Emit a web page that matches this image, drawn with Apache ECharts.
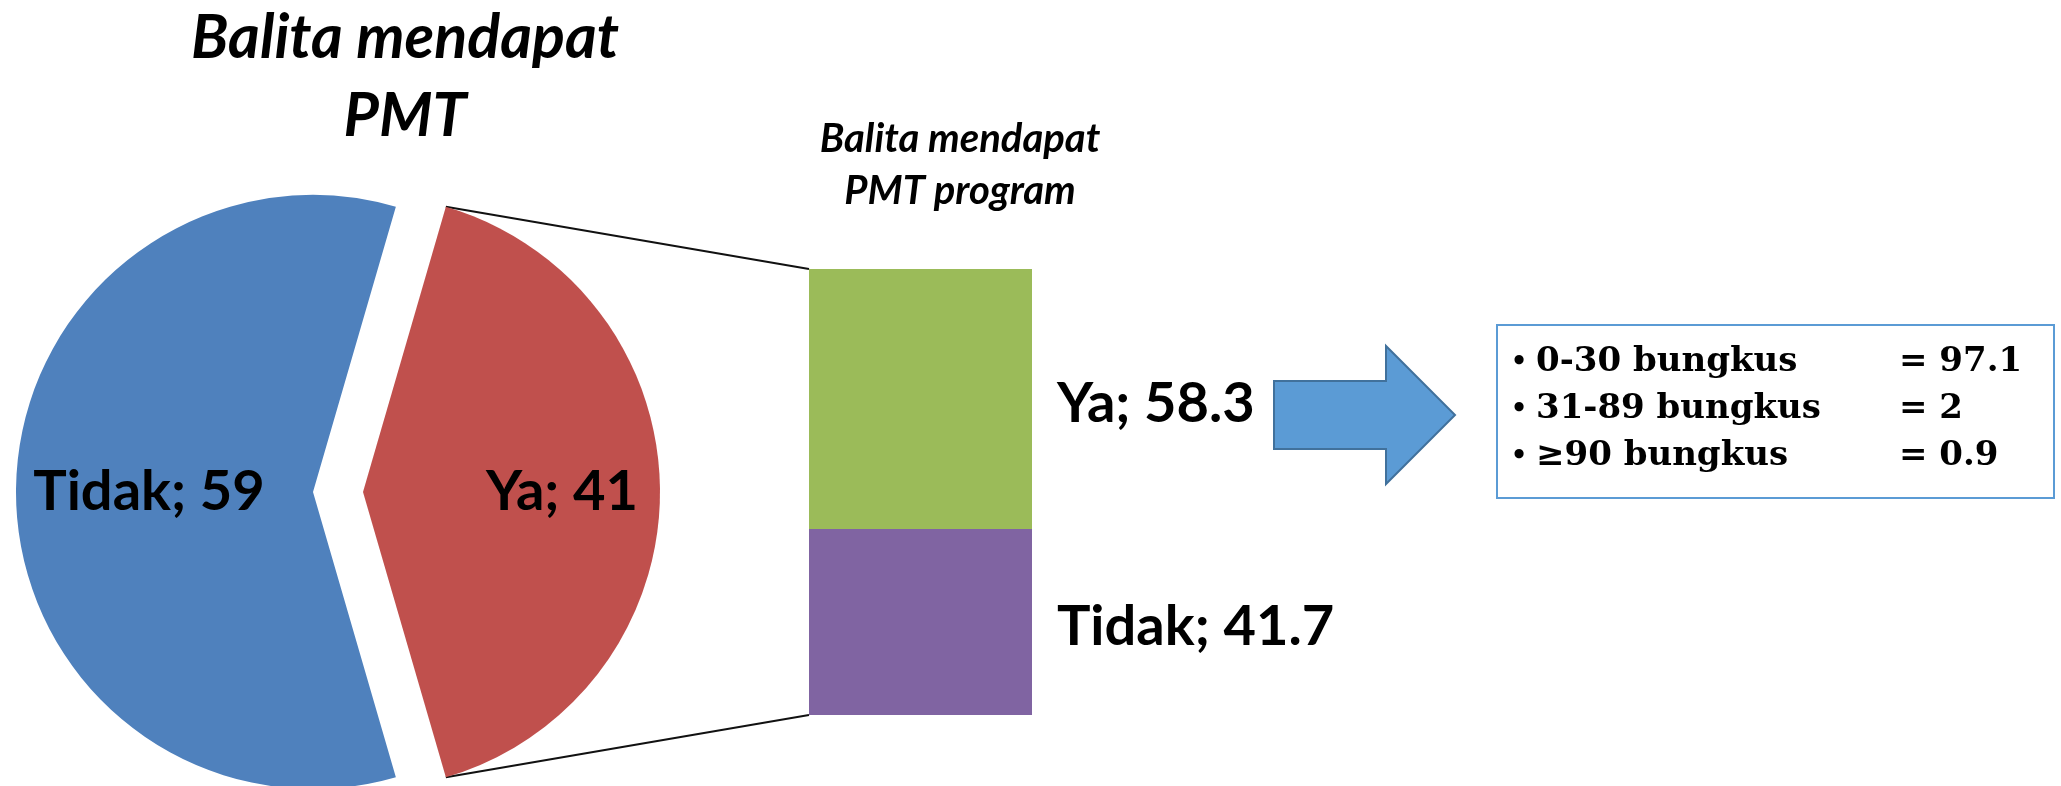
<!DOCTYPE html>
<html>
<head>
<meta charset="utf-8">
<title>Balita mendapat PMT</title>
<script src="https://cdn.jsdelivr.net/npm/echarts/dist/echarts.min.js"></script>
<style>
html,body{margin:0;padding:0;background:#fff;}
#main{width:2061px;height:786px;}
</style>
</head>
<body>
<div id="main"></div>
<script>
// data
var pieNames = ['Ya', 'Tidak'];
var pieValues = [41, 59];
var barNames = ['Tidak', 'Ya'];      // stacked from the bottom up
var barValues = [41.7, 58.3];
var bungkusNames = ['0-30 bungkus', '31-89 bungkus', '≥90 bungkus'];
var bungkusValues = [97.1, 2, 0.9];

// layout
var pieX = 313, pieY = 492, pieR = 297, explode = 50;
var gridL = 809, gridT = 269, gridW = 223, gridH = 446;
var boxX = 1497, boxY = 325, boxW = 557, boxH = 173;
var rowY = [362, 409, 456];

var chart = echarts.init(document.getElementById('main'));

var total = pieValues[0] + pieValues[1];
var half = pieValues[0] / total * 180;   // "Ya" slice centred on the right

var labelFont = {color: '#000', fontFamily: 'Lato', fontWeight: 'bold', fontSize: 56};

var barLabel = Object.assign({
	show: true,
	position: 'right',
	distance: 25,
	offset: [0, 5],
	formatter: '{a}; {c}'
}, labelFont);

var option = {
	animation: false,
	grid: {left: gridL, top: gridT, width: gridW, height: gridH},
	xAxis: {type: 'category', data: ['PMT program'], show: false},
	yAxis: {type: 'value', min: 0, max: 100, show: false},
	series: [
		{
			type: 'pie',
			center: [pieX, pieY],
			radius: pieR,
			startAngle: half,
			clockwise: true,
			selectedMode: 'single',
			selectedOffset: explode,
			avoidLabelOverlap: false,
			emphasis: {disabled: true},
			label: Object.assign({position: 'inside', formatter: '{b}; {c}'}, labelFont),
			labelLine: {show: false},
			data: [
				{name: pieNames[0], value: pieValues[0], selected: true, itemStyle: {color: '#C0504D'}, label: {padding: [0, 0, 0, 95]}},
				{name: pieNames[1], value: pieValues[1], itemStyle: {color: '#4F81BD'}, label: {padding: [0, 25, 0, 0]}}
			]
		},
		{
			type: 'bar',
			name: barNames[0],
			stack: 'pmt',
			barWidth: '100%',
			data: [barValues[0]],
			itemStyle: {color: '#8064A2'},
			emphasis: {disabled: true},
			label: barLabel
		},
		{
			type: 'bar',
			name: barNames[1],
			stack: 'pmt',
			barWidth: '100%',
			data: [barValues[1]],
			itemStyle: {color: '#9BBB59'},
			emphasis: {disabled: true},
			label: barLabel
		}
	]
};
chart.setOption(option);

// connector lines from the exploded slice to the bar
var yTop = chart.convertToPixel({yAxisIndex: 0}, 100);
var yBot = chart.convertToPixel({yAxisIndex: 0}, 0);
var a = half * Math.PI / 180;
var tipX = pieX + explode + pieR * Math.cos(a);
var tipUp = pieY - pieR * Math.sin(a);
var tipDown = pieY + pieR * Math.sin(a);

var titleFont = 'italic bold 61px Lato';
var subFont = 'italic bold 40px Lato';
var boxFont = 'bold 34px "DejaVu Serif"';

var g = [
	{type: 'line', shape: {x1: tipX, y1: tipUp, x2: gridL, y2: yTop}, style: {stroke: '#111', lineWidth: 2}},
	{type: 'line', shape: {x1: tipX, y1: tipDown, x2: gridL, y2: yBot}, style: {stroke: '#111', lineWidth: 2}},
	{type: 'text', x: 405, y: 38, style: {text: 'Balita mendapat', font: titleFont, fill: '#000', textAlign: 'center', textVerticalAlign: 'middle'}},
	{type: 'text', x: 405, y: 116, style: {text: 'PMT', font: titleFont, fill: '#000', textAlign: 'center', textVerticalAlign: 'middle'}},
	{type: 'text', x: 960, y: 139, style: {text: 'Balita mendapat', font: subFont, fill: '#000', textAlign: 'center', textVerticalAlign: 'middle'}},
	{type: 'text', x: 960, y: 191, style: {text: 'PMT program', font: subFont, fill: '#000', textAlign: 'center', textVerticalAlign: 'middle'}},
	{
		type: 'polygon',
		shape: {points: [[1274, 381], [1386, 381], [1386, 346], [1455, 415], [1386, 484], [1386, 449], [1274, 449]]},
		style: {fill: '#5B9BD5', stroke: '#41719C', lineWidth: 2}
	},
	{type: 'rect', shape: {x: boxX, y: boxY, width: boxW, height: boxH}, style: {fill: '#fff', stroke: '#5B9BD5', lineWidth: 2}}
];

for (var i = 0; i < bungkusNames.length; i++) {
	g.push({type: 'text', x: 1519, y: rowY[i], style: {text: '•', font: 'bold 26px "DejaVu Serif"', fill: '#000', textAlign: 'center', textVerticalAlign: 'middle'}});
	g.push({type: 'text', x: 1536, y: rowY[i], style: {text: bungkusNames[i], font: boxFont, fill: '#000', textAlign: 'left', textVerticalAlign: 'middle'}});
	g.push({type: 'text', x: 1899, y: rowY[i], style: {text: '= ' + bungkusValues[i], font: boxFont, fill: '#000', textAlign: 'left', textVerticalAlign: 'middle'}});
}

chart.setOption({graphic: g});
</script>
</body>
</html>
